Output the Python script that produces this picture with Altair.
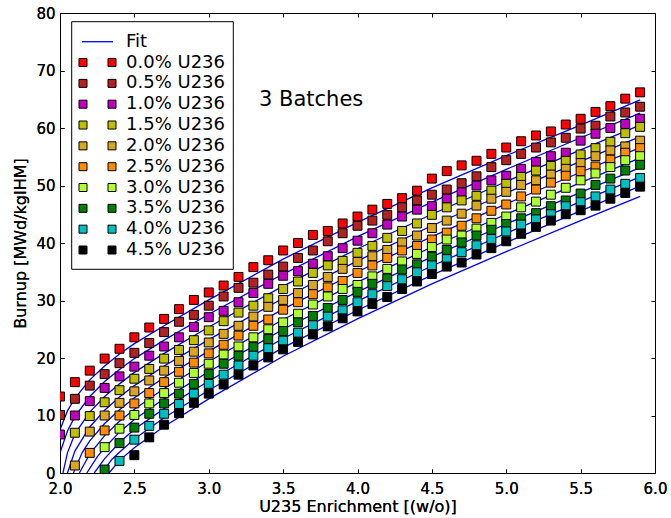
import altair as alt
import pandas as pd

# ---------------- data ----------------
ENRICH = [2.0, 2.1, 2.2, 2.3, 2.4, 2.5, 2.6, 2.7, 2.8, 2.9,
          3.0, 3.1, 3.2, 3.3, 3.4, 3.5, 3.6, 3.7, 3.8, 3.9,
          4.0, 4.1, 4.2, 4.3, 4.4, 4.5, 4.6, 4.7, 4.8, 4.9,
          5.0, 5.1, 5.2, 5.3, 5.4, 5.5, 5.6, 5.7, 5.8, 5.9]

LABELS = ["0.0% U236", "0.5% U236", "1.0% U236", "1.5% U236", "2.0% U236",
          "2.5% U236", "3.0% U236", "3.5% U236", "4.0% U236", "4.5% U236"]
COLORS = ["#ff0000", "#b22222", "#bf00bf", "#bfbf00", "#daa520",
          "#ff8c00", "#adff2f", "#007f00", "#00bfbf", "#000000"]

N = None
BU_00 = [13.3, 15.8, 17.8, 19.9, 21.6, 23.6, 25.3, 26.8, 28.5, 30.1,
         31.4, 32.6, 34.1, 35.8, 37.0, 38.7, 40.0, 41.4, 42.1, 43.4,
         44.6, 45.8, 46.8, 47.8, 49.1, 51.2, 52.5, 53.5, 54.3, 55.5,
         56.6, 57.7, 58.7, 59.4, 60.6, 61.6, 62.8, 63.8, 65.1, 66.2]
BU_05 = [10.1, 12.9, 15.2, 17.2, 19.1, 20.9, 22.6, 24.5, 26.3, 27.5,
         29.1, 30.7, 32.2, 33.1, 34.5, 35.9, 37.4, 38.7, 40.3, 41.7,
         43.0, 43.9, 44.9, 46.2, 47.4, 48.4, 49.3, 50.4, 51.6, 53.2,
         54.4, 55.5, 56.6, 57.5, 58.3, 59.9, 60.4, 62.0, 62.7, 63.7]
BU_10 = [6.7, 10.0, 12.5, 14.8, 16.8, 18.5, 20.4, 22.0, 23.6, 25.4,
         27.1, 28.2, 29.7, 31.3, 32.9, 34.3, 35.1, 36.4, 37.7, 39.1,
         40.4, 41.7, 43.2, 44.6, 45.8, 46.4, 47.7, 48.8, 50.0, 50.9,
         51.7, 52.9, 54.1, 55.1, 55.7, 57.8, 59.0, 60.0, 60.7, 61.6]
BU_15 = [N, 7.0, 9.9, 12.3, 14.4, 16.4, 18.1, 19.9, 21.4, 23.1,
         24.8, 26.4, 27.9, 29.1, 30.4, 32.0, 33.3, 34.8, 36.1, 36.9,
         38.3, 39.5, 40.9, 42.1, 43.4, 44.9, 46.2, 47.4, 48.2, 49.1,
         50.3, 51.5, 52.6, 53.4, 54.3, 55.4, 56.5, 57.6, 59.1, 60.2]
BU_20 = [N, 1.3, 7.2, 10.0, 12.2, 14.2, 16.1, 17.8, 19.5, 21.1,
         22.7, 24.2, 25.6, 27.2, 28.9, 30.1, 31.3, 32.7, 34.1, 35.5,
         36.7, 37.7, 38.8, 40.1, 41.3, 42.6, 43.9, 45.1, 46.5, 47.7,
         48.9, 50.1, 50.9, 51.9, 52.9, 53.9, 55.1, 56.1, 56.8, 57.8]
BU_25 = [N, N, 3.5, 7.4, 10.0, 12.1, 13.9, 15.8, 17.6, 19.2,
         20.8, 22.3, 23.9, 25.6, 26.7, 28.4, 29.7, 31.1, 32.3, 33.4,
         34.8, 36.1, 37.4, 38.7, 39.5, 40.6, 41.8, 43.0, 44.3, 45.6,
         46.7, 48.1, 49.3, 50.5, 51.7, 52.5, 53.3, 54.5, 55.7, 56.5]
BU_30 = [N, N, N, 4.5, 7.7, 10.1, 12.1, 13.9, 15.7, 17.4,
         19.0, 20.6, 22.0, 23.6, 25.0, 26.2, 27.7, 29.3, 30.7, 32.0,
         32.7, 34.2, 35.5, 36.8, 38.1, 39.3, 40.6, 41.3, 42.5, 43.5,
         44.6, 46.2, 47.2, 48.4, 49.6, 50.9, 52.1, 53.2, 54.4, 55.1]
BU_35 = [N, N, N, 0.6, 5.2, 7.9, 10.3, 12.1, 13.8, 15.5,
         17.2, 19.0, 20.4, 21.9, 23.3, 24.7, 26.2, 27.3, 28.7, 30.1,
         31.5, 32.9, 33.8, 35.4, 36.3, 37.6, 38.8, 40.1, 41.3, 42.3,
         43.3, 44.3, 45.2, 46.4, 47.4, 48.6, 50.1, 51.2, 52.6, 53.6]
BU_40 = [N, N, N, N, 2.1, 5.8, 8.2, 10.3, 12.0, 13.8,
         15.5, 17.1, 18.7, 20.4, 21.7, 23.0, 24.4, 25.7, 27.2, 28.3,
         29.7, 31.1, 32.5, 33.7, 34.9, 36.1, 37.2, 38.4, 39.6, 40.7,
         42.0, 43.2, 44.1, 45.0, 46.4, 47.1, 48.1, 49.3, 50.3, 51.3]
BU_45 = [N, N, N, N, N, 3.1, 6.2, 8.4, 10.4, 12.2,
         13.8, 15.4, 17.1, 18.7, 20.1, 21.5, 22.8, 24.1, 25.5, 26.9,
         28.1, 29.4, 30.6, 32.0, 33.3, 34.6, 35.9, 36.6, 38.0, 39.1,
         40.3, 41.6, 42.8, 43.9, 45.0, 45.7, 46.5, 47.7, 48.7, 49.8]
SERIES = [BU_00, BU_05, BU_10, BU_15, BU_20, BU_25, BU_30, BU_35, BU_40, BU_45]

# fit curves, read at a few enrichments each
FIT_X = [
    [2.0, 2.05, 2.1, 2.2, 2.3, 2.4, 2.5, 2.7, 3.0, 3.5, 4.0, 4.5, 5.0, 5.5, 5.9],
    [2.0, 2.05, 2.1, 2.2, 2.3, 2.4, 2.5, 2.7, 3.0, 3.5, 4.0, 4.5, 5.0, 5.5, 5.9],
    [2.02, 2.05, 2.1, 2.2, 2.3, 2.4, 2.5, 2.7, 3.0, 3.5, 4.0, 4.5, 5.0, 5.5, 5.9],
    [2.05, 2.1, 2.2, 2.3, 2.4, 2.5, 2.7, 3.0, 3.5, 4.0, 4.5, 5.0, 5.5, 5.9],
    [2.09, 2.15, 2.2, 2.3, 2.4, 2.5, 2.7, 3.0, 3.5, 4.0, 4.5, 5.0, 5.5, 5.9],
    [2.13, 2.2, 2.3, 2.4, 2.5, 2.7, 3.0, 3.5, 4.0, 4.5, 5.0, 5.5, 5.9],
    [2.18, 2.25, 2.3, 2.4, 2.5, 2.7, 3.0, 3.5, 4.0, 4.5, 5.0, 5.5, 5.9],
    [2.23, 2.3, 2.4, 2.5, 2.7, 3.0, 3.5, 4.0, 4.5, 5.0, 5.5, 5.9],
    [2.28, 2.35, 2.4, 2.5, 2.7, 3.0, 3.5, 4.0, 4.5, 5.0, 5.5, 5.9],
    [2.33, 2.4, 2.5, 2.7, 3.0, 3.5, 4.0, 4.5, 5.0, 5.5, 5.9],
]
FIT_Y = [
    [7.5, 10.8, 13.0, 16.2, 18.6, 20.7, 22.5, 25.6, 30.1, 37.2, 43.6, 49.6, 55.2, 60.5, 64.9],
    [3.5, 7.3, 9.8, 13.3, 15.9, 18.0, 19.9, 23.1, 27.6, 34.6, 41.1, 47.1, 52.8, 58.3, 62.6],
    [0.0, 3.5, 6.8, 10.6, 13.3, 15.5, 17.5, 20.8, 25.4, 32.5, 39.0, 45.0, 50.7, 56.2, 60.5],
    [0.0, 3.8, 8.0, 10.9, 13.2, 15.2, 18.6, 23.2, 30.4, 36.9, 43.0, 48.7, 54.2, 58.5],
    [0.0, 3.6, 5.6, 8.6, 11.0, 13.1, 16.6, 21.2, 28.5, 35.0, 41.1, 46.8, 52.3, 56.6],
    [0.0, 3.3, 6.5, 9.0, 11.1, 14.7, 19.4, 26.7, 33.2, 39.3, 45.0, 50.5, 54.8],
    [0.0, 2.8, 4.4, 7.1, 9.3, 12.9, 17.6, 25.0, 31.5, 37.6, 43.3, 48.8, 53.1],
    [0.0, 2.5, 5.3, 7.6, 11.2, 16.0, 23.4, 29.9, 36.0, 41.7, 47.2, 51.5],
    [0.0, 2.4, 3.6, 5.9, 9.6, 14.4, 21.8, 28.3, 34.4, 40.1, 45.6, 49.9],
    [0.0, 2.2, 4.4, 8.1, 12.9, 20.3, 26.8, 32.9, 38.5, 43.9, 48.1],
]

X_TICKS = [2.0, 2.5, 3.0, 3.5, 4.0, 4.5, 5.0, 5.5, 6.0]
Y_TICKS = [0, 10, 20, 30, 40, 50, 60, 70, 80]

# ---------------- tables ----------------
pts = []
for lab, vals in zip(LABELS, SERIES):
    for e, v in zip(ENRICH, vals):
        if v is not None:
            pts.append({"series": lab, "x": e, "y": v})
pts = pd.DataFrame(pts)

fits = []
for lab, fx, fy in zip(LABELS, FIT_X, FIT_Y):
    for e, v in zip(fx, fy):
        fits.append({"series": lab, "x": e, "y": v})
fits = pd.DataFrame(fits)

FONT = "DejaVu Sans"
xs = alt.Scale(domain=[2, 6], nice=False, zero=False)
ys = alt.Scale(domain=[0, 80], nice=False, zero=False)

x_bottom = alt.Axis(orient="bottom", values=X_TICKS, format=".1f", offset=-4, tickSize=4,
                    domain=False, grid=False, labelPadding=8, labelFlush=False,
                    title="U235 Enrichment [(w/o)]", titlePadding=2)
y_left = alt.Axis(orient="left", values=Y_TICKS, format="d", offset=-4, tickSize=4,
                  domain=False, grid=False, labelPadding=5, labelFlush=False,
                  title="Burnup [MWd/kgIHM]", titlePadding=7)
x_top = alt.Axis(orient="top", values=X_TICKS, offset=-4, tickSize=4, labels=False,
                 domain=False, grid=False, title=None)
y_right = alt.Axis(orient="right", values=Y_TICKS, offset=-4, tickSize=4, labels=False,
                   domain=False, grid=False, title=None)

lines = alt.Chart(fits).mark_line(color="#0000ff", strokeWidth=1.3, clip=True).encode(
    x=alt.X("x:Q", scale=xs, axis=x_bottom),
    y=alt.Y("y:Q", scale=ys, axis=y_left),
    detail="series:N",
    order="x:Q",
)

points = alt.Chart(pts).mark_square(size=80, opacity=1, stroke="black", strokeWidth=1, clip=True).encode(
    x=alt.X("x:Q", scale=xs, axis=x_bottom),
    y=alt.Y("y:Q", scale=ys, axis=y_left),
    fill=alt.Fill("series:N", scale=alt.Scale(domain=LABELS, range=COLORS), legend=None),
)

ghost = alt.Chart(pts).mark_point(opacity=0).encode(
    x=alt.X("x:Q", scale=xs, axis=x_top),
    y=alt.Y("y:Q", scale=ys, axis=y_right),
)

one = pd.DataFrame({"k": [0]})
annot = alt.Chart(one).mark_text(text="3 Batches", align="left", baseline="alphabetic",
                                 fontSize=21, font=FONT, color="black").encode(
    x=alt.value(199), y=alt.value(93))

# legend (matplotlib style, two markers per entry)
ROW0 = 28.7
ROW_STEP = 20.83
legend_layers = [
    alt.Chart(one).mark_rect(fill="white", stroke="black", strokeWidth=1).encode(
        x=alt.value(11.7), x2=alt.value(173.3), y=alt.value(8.7), y2=alt.value(256.3)),
    alt.Chart(one).mark_rule(color="#0000ff", strokeWidth=1.3).encode(
        x=alt.value(22), x2=alt.value(53), y=alt.value(ROW0)),
    alt.Chart(one).mark_text(text="Fit", align="left", baseline="middle", fontSize=18,
                             font=FONT, color="black").encode(x=alt.value(66), y=alt.value(ROW0)),
]
for i, (lab, col) in enumerate(zip(LABELS, COLORS)):
    ry = ROW0 + ROW_STEP * (i + 1)
    for mx in (23, 52):
        legend_layers.append(
            alt.Chart(one).mark_square(size=64, opacity=1, fill=col, stroke="black", strokeWidth=1).encode(
                x=alt.value(mx), y=alt.value(ry)))
    legend_layers.append(
        alt.Chart(one).mark_text(text=lab, align="left", baseline="middle", fontSize=18,
                                 font=FONT, color="black").encode(x=alt.value(66), y=alt.value(ry)))

chart = alt.layer(lines, points, ghost, annot, *legend_layers).resolve_axis(
    x="independent", y="independent"
).properties(
    width=595, height=460,
    padding={"left": 60, "top": 13, "right": 16, "bottom": 45},
    autosize=alt.AutoSizeParams(type="none"),
    background="white",
).configure_view(
    stroke="black", strokeWidth=1
).configure_axis(
    labelFont=FONT, labelFontSize=15, labelColor="black",
    titleFont=FONT, titleFontSize=16, titleColor="black", titleFontWeight="normal",
    tickColor="black", tickWidth=1,
)

chart.save("out.html", embed_options={"renderer": "svg", "actions": False})
